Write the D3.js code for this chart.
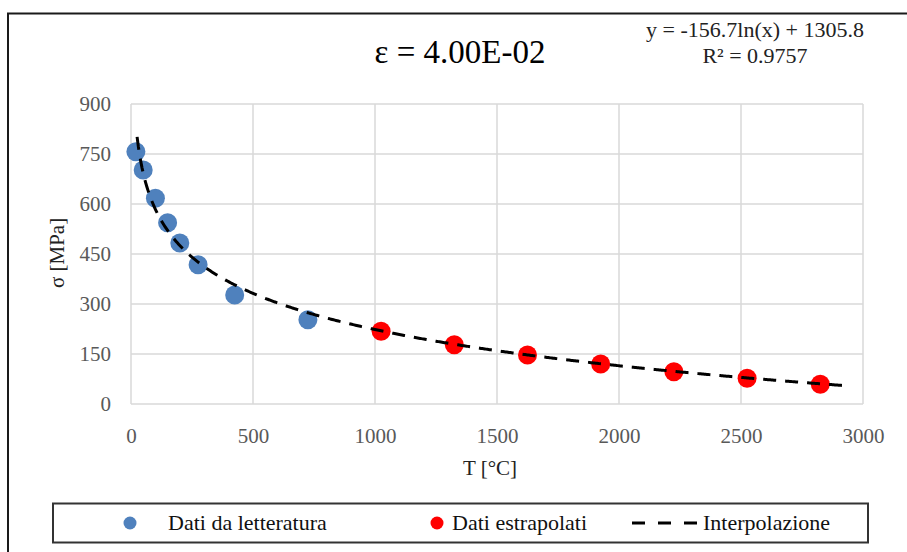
<!DOCTYPE html>
<html>
<head>
<meta charset="utf-8">
<script src="https://cdn.jsdelivr.net/npm/d3@7/dist/d3.min.js"></script>
<style>
  html, body { margin: 0; padding: 0; background: #fff; }
  svg { display: block; }
  text { font-family: "Liberation Serif", "Times New Roman", serif; }
</style>
</head>
<body>
<svg id="chart" width="907" height="552"></svg>
<script>
// Literature data (temperature °C, stress MPa)
const litT = [20, 50, 100, 150, 200, 275, 425, 725];
const litS = [757, 702, 617, 544, 483, 418, 327, 253];
// Extrapolated data
const extT = [1025, 1325, 1625, 1925, 2225, 2525, 2825];
const extS = [218, 178, 147, 120, 97, 77, 59];
// Logarithmic fit y = a*ln(x) + b, as stated in the equation label
const fitA = [-156.7];
const fitB = [1305.8];
const fitR2 = ["0.9757"];
const fitRange = [25, 2925];
// Axis ticks
const xTicks = [0, 500, 1000, 1500, 2000, 2500, 3000];
const yTicks = [0, 150, 300, 450, 600, 750, 900];

const svg = d3.select("#chart");
const plot = { left: 131, right: 863, top: 104, bottom: 404 };

const x = d3.scaleLinear().domain([0, 3000]).range([plot.left, plot.right]);
const y = d3.scaleLinear().domain([0, 900]).range([plot.bottom, plot.top]);

// Outer chart frame (continues past the right and bottom edges)
svg.append("rect")
  .attr("x", 8).attr("y", 13.5).attr("width", 960).attr("height", 600)
  .attr("fill", "none").attr("stroke", "#1a1a1a").attr("stroke-width", 2);

// Gridlines
const grid = svg.append("g");
grid.selectAll(".hg").data(yTicks).join("line")
  .attr("x1", plot.left).attr("x2", plot.right)
  .attr("y1", d => y(d)).attr("y2", d => y(d))
  .attr("stroke", "#d9d9d9").attr("stroke-width", 1.5);
grid.selectAll(".vg").data(xTicks).join("line")
  .attr("y1", plot.top).attr("y2", plot.bottom)
  .attr("x1", d => x(d)).attr("x2", d => x(d))
  .attr("stroke", "#d9d9d9").attr("stroke-width", 1.5);

// Axes (labels only; lines come from the grid)
const xAxis = svg.append("g")
  .attr("transform", `translate(0,${plot.bottom})`)
  .call(d3.axisBottom(x).tickValues(xTicks).tickSize(0).tickPadding(24).tickFormat(d3.format("d")));
const yAxis = svg.append("g")
  .attr("transform", `translate(${plot.left},0)`)
  .call(d3.axisLeft(y).tickValues(yTicks).tickSize(0).tickPadding(20).tickFormat(d3.format("d")));
[xAxis, yAxis].forEach(g => {
  g.select(".domain").remove();
  g.selectAll("text")
    .attr("font-family", "Liberation Serif, Times New Roman, serif")
    .attr("font-size", 21).attr("fill", "#595959");
});

// Data points
svg.append("g").selectAll("circle").data(litT.map((t, i) => [t, litS[i]])).join("circle")
  .attr("cx", d => x(d[0])).attr("cy", d => y(d[1])).attr("r", 9.5)
  .attr("fill", "#4f81bd");
svg.append("g").selectAll("circle").data(extT.map((t, i) => [t, extS[i]])).join("circle")
  .attr("cx", d => x(d[0])).attr("cy", d => y(d[1])).attr("r", 9.5)
  .attr("fill", "#ff0000");

// Trend line from the fitted equation
const fitPts = d3.range(fitRange[0], fitRange[1] + 1, 5).map(t => [t, fitA[0] * Math.log(t) + fitB[0]]);
svg.append("path")
  .datum(fitPts)
  .attr("d", d3.line().x(d => x(d[0])).y(d => y(d[1])))
  .attr("fill", "none").attr("stroke", "#000").attr("stroke-width", 3)
  .attr("stroke-dasharray", "13,9");

// Title
svg.append("text").attr("x", 460).attr("y", 63).attr("text-anchor", "middle")
  .attr("font-size", 33).attr("fill", "#000").text("ε = 4.00E-02");

// Equation label
const eq = svg.append("text").attr("text-anchor", "middle").attr("font-size", 22).attr("fill", "#222");
eq.append("tspan").attr("x", 755).attr("y", 37)
  .text(`y = ${fitA[0]}ln(x) + ${fitB[0]}`);
eq.append("tspan").attr("x", 755).attr("y", 63).text(`R² = ${fitR2[0]}`);

// Axis titles
svg.append("text").attr("x", 490).attr("y", 475).attr("text-anchor", "middle")
  .attr("font-size", 21).attr("fill", "#222").text("T [°C]");
svg.append("text").attr("transform", "translate(64,253) rotate(-90)")
  .attr("text-anchor", "middle").attr("font-size", 21).attr("fill", "#222").text("σ [MPa]");

// Legend
const lg = svg.append("g");
lg.append("rect").attr("x", 53).attr("y", 503.5).attr("width", 815).attr("height", 39)
  .attr("fill", "#fff").attr("stroke", "#333").attr("stroke-width", 2);
lg.append("circle").attr("cx", 130).attr("cy", 523).attr("r", 6.5).attr("fill", "#4f81bd");
lg.append("text").attr("x", 168).attr("y", 530).attr("font-size", 22).attr("fill", "#111").text("Dati da letteratura");
lg.append("circle").attr("cx", 437).attr("cy", 523).attr("r", 6.5).attr("fill", "#ff0000");
lg.append("text").attr("x", 452).attr("y", 530).attr("font-size", 22).attr("fill", "#111").text("Dati estrapolati");
lg.append("line").attr("x1", 632).attr("x2", 701).attr("y1", 523).attr("y2", 523)
  .attr("stroke", "#000").attr("stroke-width", 3).attr("stroke-dasharray", "13,13");
lg.append("text").attr("x", 703).attr("y", 530).attr("font-size", 22).attr("fill", "#111").text("Interpolazione");
</script>
</body>
</html>
